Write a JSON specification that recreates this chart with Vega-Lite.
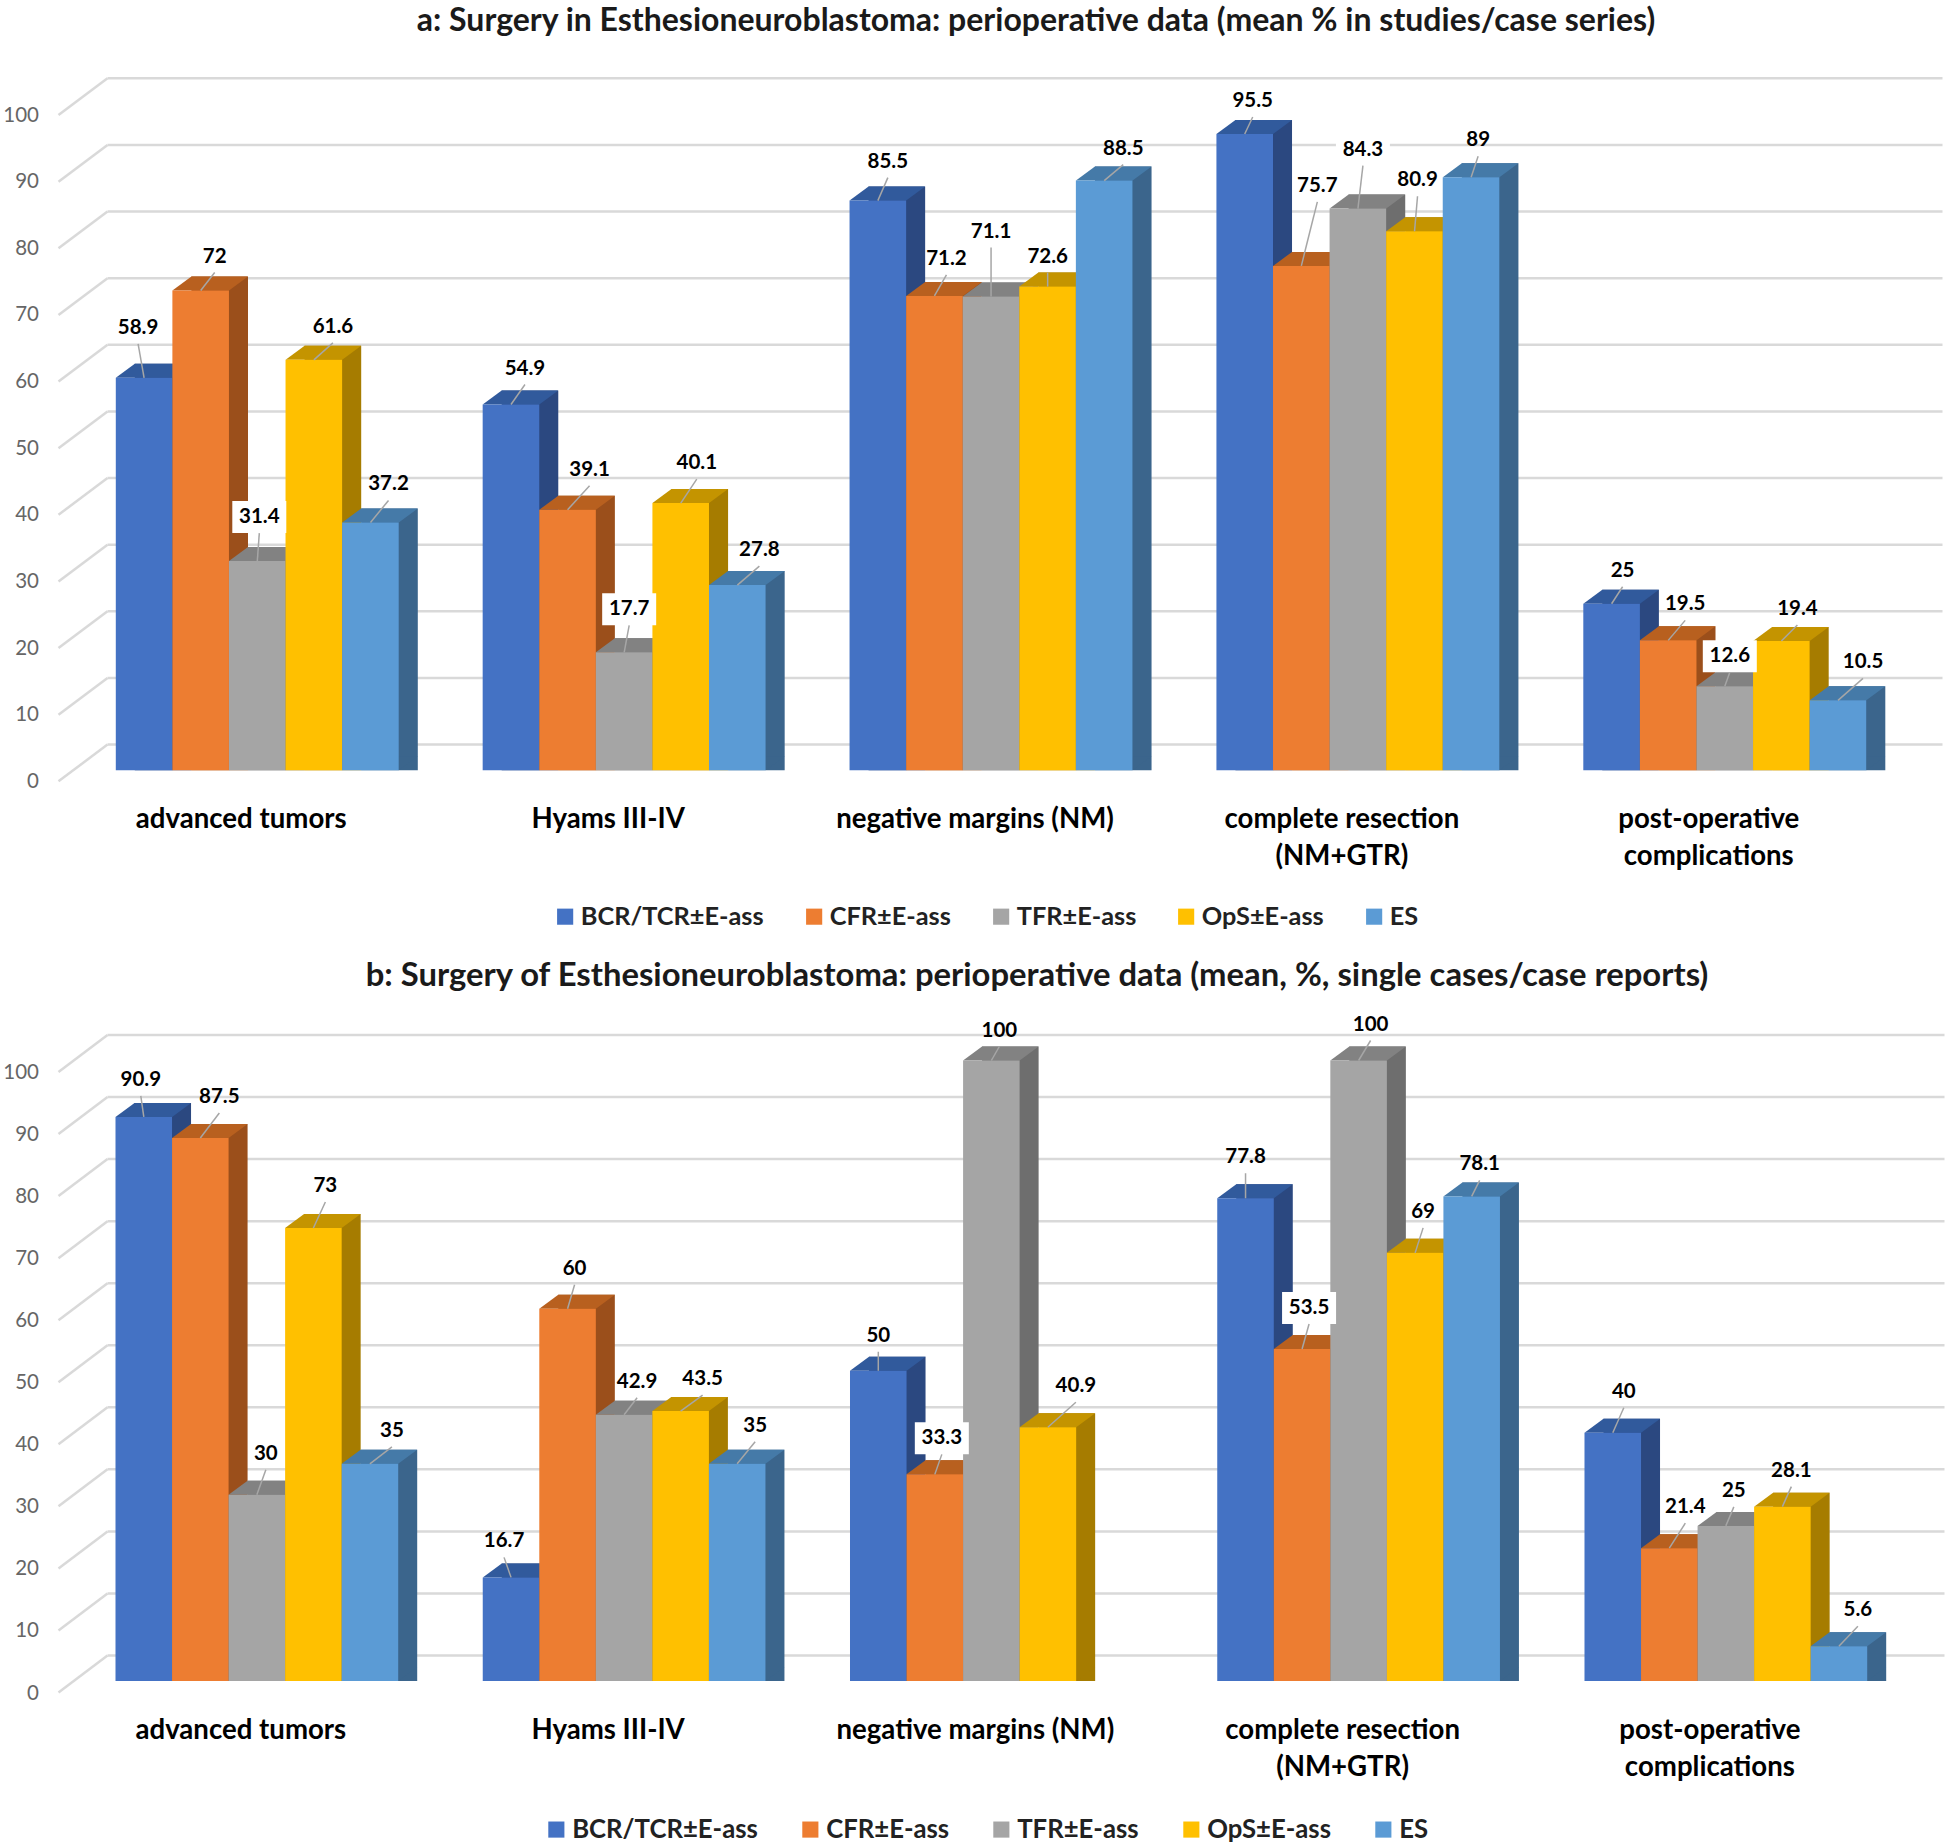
{"$schema":"https://vega.github.io/schema/vega-lite/v6.json","background":"white","padding":{"left":2.5,"top":5,"right":0,"bottom":0},"bounds":"flush","spacing":289.5,
"params":[{"name":"lab","value":{"a00":[-6,-50],"a01":[14,-34],"a02":[2,-44],"a03":[19,-33],"a04":[18,-38],"a10":[14,-36],"a11":[22,-40],"a12":[5,-43],"a13":[16,-40],"a14":[22,-35],"a20":[10,-39],"a21":[12,-37],"a22":[0,-65],"a23":[0,-30],"a24":[19,-32],"a30":[8,-33],"a31":[16,-80],"a32":[5,-59],"a33":[3,-51],"a34":[7,-37],"a40":[11,-33],"a41":[17,-36],"a42":[5,-30],"a43":[16,-32],"a44":[25,-38],"b00":[-3,-37],"b01":[19,-41],"b02":[9,-41],"b03":[12,-42],"b04":[22,-33],"b10":[-7,-36],"b11":[7,-40],"b12":[13,-33],"b13":[22,-32],"b14":[18,-38],"b20":[0,-35],"b21":[7,-36],"b22":[8,-30],"b23":[28,-41],"b30":[0,-41],"b31":[7,-41],"b32":[12,-36],"b33":[8,-41],"b34":[8,-32],"b40":[11,-41],"b41":[16,-41],"b42":[8,-35],"b43":[9,-36],"b44":[19,-36]}}],
"datasets":{"ticks":[{"tick":0},{"tick":10},{"tick":20},{"tick":30},{"tick":40},{"tick":50},{"tick":60},{"tick":70},{"tick":80},{"tick":90},{"tick":100}],
"a":[{"id":"a00","category":"advanced tumors","series":"BCR/TCR±E-ass","value":58.9},{"id":"a01","category":"advanced tumors","series":"CFR±E-ass","value":72},{"id":"a02","category":"advanced tumors","series":"TFR±E-ass","value":31.4},{"id":"a03","category":"advanced tumors","series":"OpS±E-ass","value":61.6},{"id":"a04","category":"advanced tumors","series":"ES","value":37.2},
{"id":"a10","category":"Hyams III-IV","series":"BCR/TCR±E-ass","value":54.9},{"id":"a11","category":"Hyams III-IV","series":"CFR±E-ass","value":39.1},{"id":"a12","category":"Hyams III-IV","series":"TFR±E-ass","value":17.7},{"id":"a13","category":"Hyams III-IV","series":"OpS±E-ass","value":40.1},{"id":"a14","category":"Hyams III-IV","series":"ES","value":27.8},
{"id":"a20","category":"negative margins (NM)","series":"BCR/TCR±E-ass","value":85.5},{"id":"a21","category":"negative margins (NM)","series":"CFR±E-ass","value":71.2},{"id":"a22","category":"negative margins (NM)","series":"TFR±E-ass","value":71.1},{"id":"a23","category":"negative margins (NM)","series":"OpS±E-ass","value":72.6},{"id":"a24","category":"negative margins (NM)","series":"ES","value":88.5},
{"id":"a30","category":"complete resection (NM+GTR)","series":"BCR/TCR±E-ass","value":95.5},{"id":"a31","category":"complete resection (NM+GTR)","series":"CFR±E-ass","value":75.7},{"id":"a32","category":"complete resection (NM+GTR)","series":"TFR±E-ass","value":84.3},{"id":"a33","category":"complete resection (NM+GTR)","series":"OpS±E-ass","value":80.9},{"id":"a34","category":"complete resection (NM+GTR)","series":"ES","value":89},
{"id":"a40","category":"post-operative complications","series":"BCR/TCR±E-ass","value":25},{"id":"a41","category":"post-operative complications","series":"CFR±E-ass","value":19.5},{"id":"a42","category":"post-operative complications","series":"TFR±E-ass","value":12.6},{"id":"a43","category":"post-operative complications","series":"OpS±E-ass","value":19.4},{"id":"a44","category":"post-operative complications","series":"ES","value":10.5}],
"b":[{"id":"b00","category":"advanced tumors","series":"BCR/TCR±E-ass","value":90.9},{"id":"b01","category":"advanced tumors","series":"CFR±E-ass","value":87.5},{"id":"b02","category":"advanced tumors","series":"TFR±E-ass","value":30},{"id":"b03","category":"advanced tumors","series":"OpS±E-ass","value":73},{"id":"b04","category":"advanced tumors","series":"ES","value":35},
{"id":"b10","category":"Hyams III-IV","series":"BCR/TCR±E-ass","value":16.7},{"id":"b11","category":"Hyams III-IV","series":"CFR±E-ass","value":60},{"id":"b12","category":"Hyams III-IV","series":"TFR±E-ass","value":42.9},{"id":"b13","category":"Hyams III-IV","series":"OpS±E-ass","value":43.5},{"id":"b14","category":"Hyams III-IV","series":"ES","value":35},
{"id":"b20","category":"negative margins (NM)","series":"BCR/TCR±E-ass","value":50},{"id":"b21","category":"negative margins (NM)","series":"CFR±E-ass","value":33.3},{"id":"b22","category":"negative margins (NM)","series":"TFR±E-ass","value":100},{"id":"b23","category":"negative margins (NM)","series":"OpS±E-ass","value":40.9},
{"id":"b30","category":"complete resection (NM+GTR)","series":"BCR/TCR±E-ass","value":77.8},{"id":"b31","category":"complete resection (NM+GTR)","series":"CFR±E-ass","value":53.5},{"id":"b32","category":"complete resection (NM+GTR)","series":"TFR±E-ass","value":100},{"id":"b33","category":"complete resection (NM+GTR)","series":"OpS±E-ass","value":69},{"id":"b34","category":"complete resection (NM+GTR)","series":"ES","value":78.1},
{"id":"b40","category":"post-operative complications","series":"BCR/TCR±E-ass","value":40},{"id":"b41","category":"post-operative complications","series":"CFR±E-ass","value":21.4},{"id":"b42","category":"post-operative complications","series":"TFR±E-ass","value":25},{"id":"b43","category":"post-operative complications","series":"OpS±E-ass","value":28.1},{"id":"b44","category":"post-operative complications","series":"ES","value":5.6}]},
"vconcat":[
{"width":1835,"height":666.3,"title":{"text":"a: Surgery in Esthesioneuroblastoma: perioperative data (mean % in studies/case series)","font":"Lato","fontWeight":"bold","fontSize":32,"color":"#1a1a1a","offset":35,"dx":11,"anchor":"middle"},
"data":{"name":"a"},
"resolve":{"scale":{"color":"independent","xOffset":"independent"}},
"layer":[
{"data":{"name":"ticks"},"mark":{"type":"rule","yOffset":-25.7,"color":"#d9d9d9","strokeWidth":2.5},"encoding":{"y":{"field":"tick","type":"quantitative","title":null,"scale":{"domain":[0,100],"nice":false}}}},
{"data":{"name":"ticks"},"mark":{"type":"point","shape":"M0,-25.7L-49,11","size":4,"filled":false,"stroke":"#d9d9d9","strokeWidth":2.5,"opacity":1},"encoding":{"x":{"value":0},"y":{"field":"tick","type":"quantitative","title":null}}},
{"mark":{"type":"bar","yOffset":-14,"y2Offset":-14},"encoding":{"x":{"field":"category","type":"nominal","title":null,"sort":null,"scale":{"domain":["advanced tumors","Hyams III-IV","negative margins (NM)","complete resection (NM+GTR)","post-operative complications"],"range":[8.3,1758.7],"paddingInner":0.2289,"paddingOuter":0}},"xOffset":{"field":"series","type":"nominal","sort":null,"scale":{"domain":["BCR/TCR±E-ass","CFR±E-ass","TFR±E-ass","OpS±E-ass","ES"],"range":[19,302],"paddingInner":0,"paddingOuter":0}},"y":{"field":"value","type":"quantitative","title":null,"stack":null},"color":{"field":"series","type":"nominal","legend":null,"scale":{"domain":["BCR/TCR±E-ass","CFR±E-ass","TFR±E-ass","OpS±E-ass","ES"],"range":["#2b4880","#9b4f1b","#6e6e6e","#a67c00","#3b658c"]}}}},
{"mark":{"type":"point","shape":"M28.3,-14L47.3,-14L28.3,0Z","size":4,"filled":true,"opacity":1},"encoding":{"x":{"field":"category","type":"nominal","title":null},"xOffset":{"field":"series","type":"nominal","sort":null,"scale":{"type":"point","padding":0,"domain":["BCR/TCR±E-ass","CFR±E-ass","TFR±E-ass","OpS±E-ass","ES"],"range":[28.3,254.7]}},"y":{"datum":0,"type":"quantitative","title":null},"color":{"field":"series","type":"nominal","legend":null,"scale":{"domain":["BCR/TCR±E-ass","CFR±E-ass","TFR±E-ass","OpS±E-ass","ES"],"range":["#2b4880","#9b4f1b","#6e6e6e","#a67c00","#3b658c"]}}}},
{"mark":{"type":"point","shape":"M-28.3,0L28.3,0L47.3,-14L-9.3,-14Z","size":4,"filled":true,"opacity":1},"encoding":{"x":{"field":"category","type":"nominal","title":null},"xOffset":{"field":"series","type":"nominal","sort":null,"scale":{"type":"point","padding":0,"domain":["BCR/TCR±E-ass","CFR±E-ass","TFR±E-ass","OpS±E-ass","ES"],"range":[28.3,254.7]}},"y":{"field":"value","type":"quantitative","title":null},"color":{"field":"series","type":"nominal","legend":null,"scale":{"domain":["BCR/TCR±E-ass","CFR±E-ass","TFR±E-ass","OpS±E-ass","ES"],"range":["#315a9c","#b8601f","#828282","#c49400","#457aa8"]}}}},
{"mark":{"type":"bar"},"encoding":{"x":{"field":"category","type":"nominal","axis":{"title":null,"domain":false,"ticks":false,"grid":false,"labelAngle":0,"labelAlign":"center","labelBaseline":"top","labelFont":"Lato","labelFontWeight":"bold","labelFontSize":27.6,"labelColor":"#000","labelPadding":35,"labelOffset":-16,"labelLineHeight":37,"labelOverlap":false,"labelBound":false,"labelFlush":false,"labelLimit":0,"labelExpr":"datum.label=='complete resection (NM+GTR)'?['complete resection','(NM+GTR)']:datum.label=='post-operative complications'?['post-operative','complications']:datum.label"}},"xOffset":{"field":"series","type":"nominal","sort":null,"scale":{"domain":["BCR/TCR±E-ass","CFR±E-ass","TFR±E-ass","OpS±E-ass","ES"],"paddingInner":0,"paddingOuter":0}},"y":{"field":"value","type":"quantitative","stack":null,"axis":{"title":null,"domain":false,"ticks":false,"grid":false,"values":[0,10,20,30,40,50,60,70,80,90,100],"labelFont":"Lato","labelFontSize":20.5,"labelColor":"#666","labelPadding":69,"labelOffset":11}},"color":{"field":"series","type":"nominal","scale":{"domain":["BCR/TCR±E-ass","CFR±E-ass","TFR±E-ass","OpS±E-ass","ES"],"range":["#4472c4","#ed7d31","#a5a5a5","#ffc000","#5b9bd5"]},"legend":{"title":null,"orient":"none","legendX":445,"legendY":800,"direction":"horizontal","columns":5,"symbolType":"square","symbolSize":260,"symbolStrokeWidth":0,"labelFont":"Lato","labelFontWeight":"bold","labelFontSize":25.3,"labelColor":"#222","columnPadding":37,"labelOffset":3,"labelLimit":0}}}},
{"transform":[{"filter":"indexof(['a02','a12','a42','a32'],datum.id)>=0"}],"mark":{"type":"point","shape":{"expr":"'M'+(lab[datum.id][0]-27)+','+(lab[datum.id][1]-16)+'h54v32h-54z'"},"size":4,"filled":true,"color":"white","opacity":1},"encoding":{"x":{"field":"category","type":"nominal","title":null},"xOffset":{"field":"series","type":"nominal","sort":null,"scale":{"type":"point","padding":0,"domain":["BCR/TCR±E-ass","CFR±E-ass","TFR±E-ass","OpS±E-ass","ES"],"range":[28.3,254.7]}},"y":{"field":"value","type":"quantitative","title":null}}},
{"mark":{"type":"point","shape":{"expr":"'M0,0L'+lab[datum.id][0]+','+(lab[datum.id][1]+16)"},"size":4,"filled":false,"stroke":"#a6a6a6","strokeWidth":1.5,"opacity":1},"encoding":{"x":{"field":"category","type":"nominal","title":null},"xOffset":{"field":"series","type":"nominal","sort":null,"scale":{"type":"point","padding":0,"domain":["BCR/TCR±E-ass","CFR±E-ass","TFR±E-ass","OpS±E-ass","ES"],"range":[28.3,254.7]}},"y":{"field":"value","type":"quantitative","title":null}}},
{"mark":{"type":"text","font":"Lato","fontWeight":"bold","fontSize":20.5,"color":"#000","align":"center","baseline":"middle","dx":{"expr":"lab[datum.id][0]"},"dy":{"expr":"lab[datum.id][1]"}},"encoding":{"x":{"field":"category","type":"nominal","title":null},"xOffset":{"field":"series","type":"nominal","sort":null,"scale":{"type":"point","padding":0,"domain":["BCR/TCR±E-ass","CFR±E-ass","TFR±E-ass","OpS±E-ass","ES"],"range":[28.3,254.7]}},"y":{"field":"value","type":"quantitative","title":null},"text":{"field":"value","type":"quantitative","format":".1~f"}}}
]},
{"width":1837,"height":620.5,"title":{"text":"b: Surgery of Esthesioneuroblastoma: perioperative data (mean, %, single cases/case reports)","font":"Lato","fontWeight":"bold","fontSize":32.8,"color":"#1a1a1a","offset":21.5,"dx":11,"anchor":"middle"},
"data":{"name":"b"},
"resolve":{"scale":{"color":"independent","xOffset":"independent"}},
"layer":[
{"data":{"name":"ticks"},"mark":{"type":"rule","yOffset":-25.5,"color":"#d9d9d9","strokeWidth":2.5},"encoding":{"y":{"field":"tick","type":"quantitative","title":null,"scale":{"domain":[0,100],"nice":false}}}},
{"data":{"name":"ticks"},"mark":{"type":"point","shape":"M0,-25.5L-49,11.5","size":4,"filled":false,"stroke":"#d9d9d9","strokeWidth":2.5,"opacity":1},"encoding":{"x":{"value":0},"y":{"field":"tick","type":"quantitative","title":null}}},
{"mark":{"type":"bar","yOffset":-14,"y2Offset":-14},"encoding":{"x":{"field":"category","type":"nominal","title":null,"sort":null,"scale":{"domain":["advanced tumors","Hyams III-IV","negative margins (NM)","complete resection (NM+GTR)","post-operative complications"],"range":[8,1759.7],"paddingInner":0.2302,"paddingOuter":0}},"xOffset":{"field":"series","type":"nominal","sort":null,"scale":{"domain":["BCR/TCR±E-ass","CFR±E-ass","TFR±E-ass","OpS±E-ass","ES"],"range":[19,301.7],"paddingInner":0,"paddingOuter":0}},"y":{"field":"value","type":"quantitative","title":null,"stack":null},"color":{"field":"series","type":"nominal","legend":null,"scale":{"domain":["BCR/TCR±E-ass","CFR±E-ass","TFR±E-ass","OpS±E-ass","ES"],"range":["#2b4880","#9b4f1b","#6e6e6e","#a67c00","#3b658c"]}}}},
{"mark":{"type":"point","shape":"M28.3,-14L47.3,-14L28.3,0Z","size":4,"filled":true,"opacity":1},"encoding":{"x":{"field":"category","type":"nominal","title":null},"xOffset":{"field":"series","type":"nominal","sort":null,"scale":{"type":"point","padding":0,"domain":["BCR/TCR±E-ass","CFR±E-ass","TFR±E-ass","OpS±E-ass","ES"],"range":[28.3,254.4]}},"y":{"datum":0,"type":"quantitative","title":null},"color":{"field":"series","type":"nominal","legend":null,"scale":{"domain":["BCR/TCR±E-ass","CFR±E-ass","TFR±E-ass","OpS±E-ass","ES"],"range":["#2b4880","#9b4f1b","#6e6e6e","#a67c00","#3b658c"]}}}},
{"mark":{"type":"point","shape":"M-28.3,0L28.3,0L47.3,-14L-9.3,-14Z","size":4,"filled":true,"opacity":1},"encoding":{"x":{"field":"category","type":"nominal","title":null},"xOffset":{"field":"series","type":"nominal","sort":null,"scale":{"type":"point","padding":0,"domain":["BCR/TCR±E-ass","CFR±E-ass","TFR±E-ass","OpS±E-ass","ES"],"range":[28.3,254.4]}},"y":{"field":"value","type":"quantitative","title":null},"color":{"field":"series","type":"nominal","legend":null,"scale":{"domain":["BCR/TCR±E-ass","CFR±E-ass","TFR±E-ass","OpS±E-ass","ES"],"range":["#315a9c","#b8601f","#828282","#c49400","#457aa8"]}}}},
{"mark":{"type":"bar"},"encoding":{"x":{"field":"category","type":"nominal","axis":{"title":null,"domain":false,"ticks":false,"grid":false,"labelAngle":0,"labelAlign":"center","labelBaseline":"top","labelFont":"Lato","labelFontWeight":"bold","labelFontSize":27.6,"labelColor":"#000","labelPadding":35,"labelOffset":-16,"labelLineHeight":37,"labelOverlap":false,"labelBound":false,"labelFlush":false,"labelLimit":0,"labelExpr":"datum.label=='complete resection (NM+GTR)'?['complete resection','(NM+GTR)']:datum.label=='post-operative complications'?['post-operative','complications']:datum.label"}},"xOffset":{"field":"series","type":"nominal","sort":null,"scale":{"domain":["BCR/TCR±E-ass","CFR±E-ass","TFR±E-ass","OpS±E-ass","ES"],"paddingInner":0,"paddingOuter":0}},"y":{"field":"value","type":"quantitative","stack":null,"axis":{"title":null,"domain":false,"ticks":false,"grid":false,"values":[0,10,20,30,40,50,60,70,80,90,100],"labelFont":"Lato","labelFontSize":20.5,"labelColor":"#666","labelPadding":69,"labelOffset":12}},"color":{"field":"series","type":"nominal","scale":{"domain":["BCR/TCR±E-ass","CFR±E-ass","TFR±E-ass","OpS±E-ass","ES"],"range":["#4472c4","#ed7d31","#a5a5a5","#ffc000","#5b9bd5"]},"legend":{"title":null,"orient":"none","legendX":436,"legendY":756,"direction":"horizontal","columns":5,"symbolType":"square","symbolSize":260,"symbolStrokeWidth":0,"labelFont":"Lato","labelFontWeight":"bold","labelFontSize":25.7,"labelColor":"#222","columnPadding":39,"labelOffset":3,"labelLimit":0}}}},
{"transform":[{"filter":"indexof(['b21','b31'],datum.id)>=0"}],"mark":{"type":"point","shape":{"expr":"'M'+(lab[datum.id][0]-27)+','+(lab[datum.id][1]-16)+'h54v32h-54z'"},"size":4,"filled":true,"color":"white","opacity":1},"encoding":{"x":{"field":"category","type":"nominal","title":null},"xOffset":{"field":"series","type":"nominal","sort":null,"scale":{"type":"point","padding":0,"domain":["BCR/TCR±E-ass","CFR±E-ass","TFR±E-ass","OpS±E-ass","ES"],"range":[28.3,254.4]}},"y":{"field":"value","type":"quantitative","title":null}}},
{"mark":{"type":"point","shape":{"expr":"'M0,0L'+lab[datum.id][0]+','+(lab[datum.id][1]+16)"},"size":4,"filled":false,"stroke":"#a6a6a6","strokeWidth":1.5,"opacity":1},"encoding":{"x":{"field":"category","type":"nominal","title":null},"xOffset":{"field":"series","type":"nominal","sort":null,"scale":{"type":"point","padding":0,"domain":["BCR/TCR±E-ass","CFR±E-ass","TFR±E-ass","OpS±E-ass","ES"],"range":[28.3,254.4]}},"y":{"field":"value","type":"quantitative","title":null}}},
{"mark":{"type":"text","font":"Lato","fontWeight":"bold","fontSize":20.5,"color":"#000","align":"center","baseline":"middle","dx":{"expr":"lab[datum.id][0]"},"dy":{"expr":"lab[datum.id][1]"}},"encoding":{"x":{"field":"category","type":"nominal","title":null},"xOffset":{"field":"series","type":"nominal","sort":null,"scale":{"type":"point","padding":0,"domain":["BCR/TCR±E-ass","CFR±E-ass","TFR±E-ass","OpS±E-ass","ES"],"range":[28.3,254.4]}},"y":{"field":"value","type":"quantitative","title":null},"text":{"field":"value","type":"quantitative","format":".1~f"}}}
]}
],"config":{"view":{"stroke":null},"axis":{"labelFont":"Lato"}}}
